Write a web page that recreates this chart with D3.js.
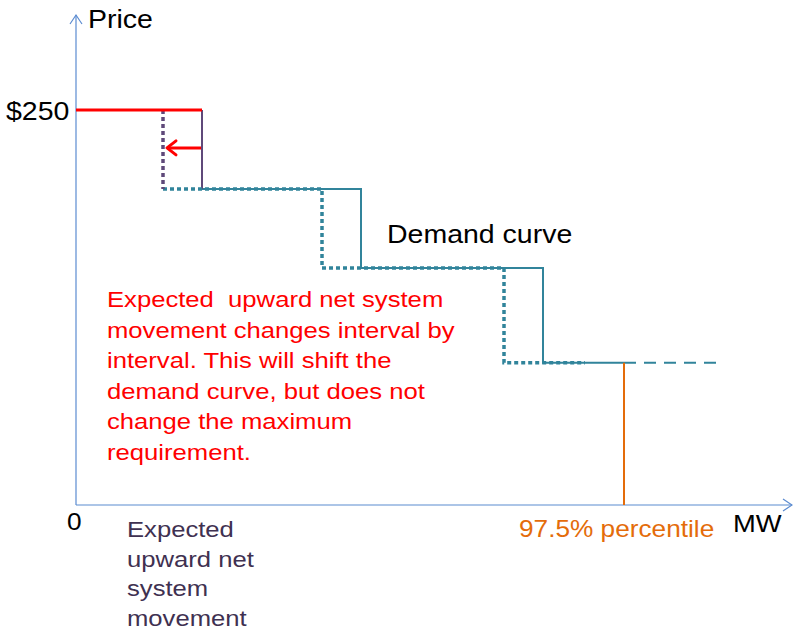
<!DOCTYPE html>
<html>
<head>
<meta charset="utf-8">
<script src="https://cdn.jsdelivr.net/npm/d3@7"></script>
<style>
  body { margin: 0; background: #fff; }
  svg { font-family: "Liberation Sans", Arial, sans-serif; }
</style>
</head>
<body>
<svg id="chart" width="793" height="635"></svg>
<script>
// demand curve steps (MW, $)
var stepMW = [126, 285, 467, 548];
var stepPrice = [200, 150, 90, 90];
var capPrice = 250;
var shiftMW = 39;          // expected upward net system movement
var tailMW = 642;          // dashed extension past the 97.5% point
var noteLines = [
  "Expected  upward net system",
  "movement changes interval by",
  "interval. This will shift the",
  "demand curve, but does not",
  "change the maximum",
  "requirement."
];
var movementLines = ["Expected", "upward net", "system", "movement"];

var svg = d3.select("svg#chart");

var x = d3.scaleLinear().domain([0, 716]).range([76, 792]);
var y = d3.scaleLinear().domain([0, 250]).range([505, 110]);

var teal = "#31849b", purple = "#5f497a", red = "#ff0000",
    orange = "#e46c0a", axisCol = "#5b8bd0";
var stretch = 1.14; // the original text is a bit wider than Liberation Sans

var line = d3.line()
  .x(function(d) { return x(d[0]); })
  .y(function(d) { return y(d[1]); })
  .curve(d3.curveStepAfter);

var straight = d3.line()
  .x(function(d) { return x(d[0]); })
  .y(function(d) { return y(d[1]); });

//axes
svg.append("line")
  .attr("x1", x(0)).attr("y1", y(0)).attr("x2", x(0)).attr("y2", 15)
  .attr("stroke", axisCol).attr("stroke-width", 1.2);
svg.append("path")
  .attr("d", "M" + (x(0) - 6) + ",24L" + x(0) + ",15L" + (x(0) + 6) + ",24")
  .attr("fill", "none").attr("stroke", axisCol).attr("stroke-width", 1.2);
svg.append("line")
  .attr("x1", x(0)).attr("y1", y(0)).attr("x2", 792).attr("y2", y(0))
  .attr("stroke", axisCol).attr("stroke-width", 1.2);
svg.append("path")
  .attr("d", "M783," + (y(0) - 6) + "L792," + y(0) + "L783," + (y(0) + 6))
  .attr("fill", "none").attr("stroke", axisCol).attr("stroke-width", 1.2);

//solid demand curve
var solidPts = stepMW.map(function(m, i) { return [m, stepPrice[i]]; });
svg.append("path")
  .attr("d", line(solidPts))
  .attr("fill", "none").attr("stroke", teal).attr("stroke-width", 2);

//dashed tail
svg.append("path")
  .attr("d", straight([[stepMW[3], stepPrice[3]], [tailMW, stepPrice[3]]]))
  .attr("fill", "none").attr("stroke", teal).attr("stroke-width", 2)
  .attr("stroke-dasharray", "12,8");

//orange 97.5% line
svg.append("path")
  .attr("d", straight([[stepMW[3], 0], [stepMW[3], stepPrice[3]]]))
  .attr("fill", "none").attr("stroke", orange).attr("stroke-width", 2);

//purple vertical at the cap
svg.append("path")
  .attr("d", straight([[stepMW[0], capPrice], [stepMW[0], stepPrice[0]]]))
  .attr("fill", "none").attr("stroke", purple).attr("stroke-width", 2);

//shifted (dotted) curve
var shiftedPts = solidPts.map(function(d) { return [d[0] - shiftMW, d[1]]; });
svg.append("path")
  .attr("d", line(shiftedPts))
  .attr("fill", "none").attr("stroke", teal).attr("stroke-width", 3.5)
  .attr("stroke-dasharray", "4,3");
svg.append("path")
  .attr("d", straight([[stepMW[0] - shiftMW, capPrice], [stepMW[0] - shiftMW, stepPrice[0]]]))
  .attr("fill", "none").attr("stroke", purple).attr("stroke-width", 3.5)
  .attr("stroke-dasharray", "4,3");

//red cap line
svg.append("path")
  .attr("d", straight([[0, capPrice], [stepMW[0], capPrice]]))
  .attr("fill", "none").attr("stroke", red).attr("stroke-width", 3);

//red shift arrow
var arrowY = y(226);
svg.append("line")
  .attr("x1", x(stepMW[0]) - 1).attr("y1", arrowY)
  .attr("x2", x(stepMW[0] - shiftMW) + 4).attr("y2", arrowY)
  .attr("stroke", red).attr("stroke-width", 3);
svg.append("path")
  .attr("d", "M" + (x(stepMW[0] - shiftMW) + 13) + "," + (arrowY - 7) +
             "L" + (x(stepMW[0] - shiftMW) + 4) + "," + arrowY +
             "L" + (x(stepMW[0] - shiftMW) + 13) + "," + (arrowY + 7))
  .attr("fill", "none").attr("stroke", red).attr("stroke-width", 3)
  .attr("stroke-linecap", "round").attr("stroke-linejoin", "round");

//labels
function label(px, py, size, col, txt) {
  return svg.append("text")
    .attr("transform", "translate(" + px + "," + py + ") scale(" + stretch + ",1)")
    .attr("font-size", size).attr("fill", col)
    .attr("xml:space", "preserve")
    .style("white-space", "pre")
    .text(txt);
}
label(88, 28, 25, "#000", "Price");
label(6, 120, 25, "#000", "$" + capPrice);
label(67, 530, 23, "#000", "0");
label(733, 532, 24, "#000", "MW");
label(519, 537, 23, orange, "97.5% percentile");
label(387, 243, 25, "#000", "Demand curve");

noteLines.forEach(function(d, i) {
  label(107, 307 + i * 30.6, 22.5, red, d);
});
movementLines.forEach(function(d, i) {
  label(127, 537 + i * 29.6, 22.5, "#3f3151", d);
});
</script>
</body>
</html>
